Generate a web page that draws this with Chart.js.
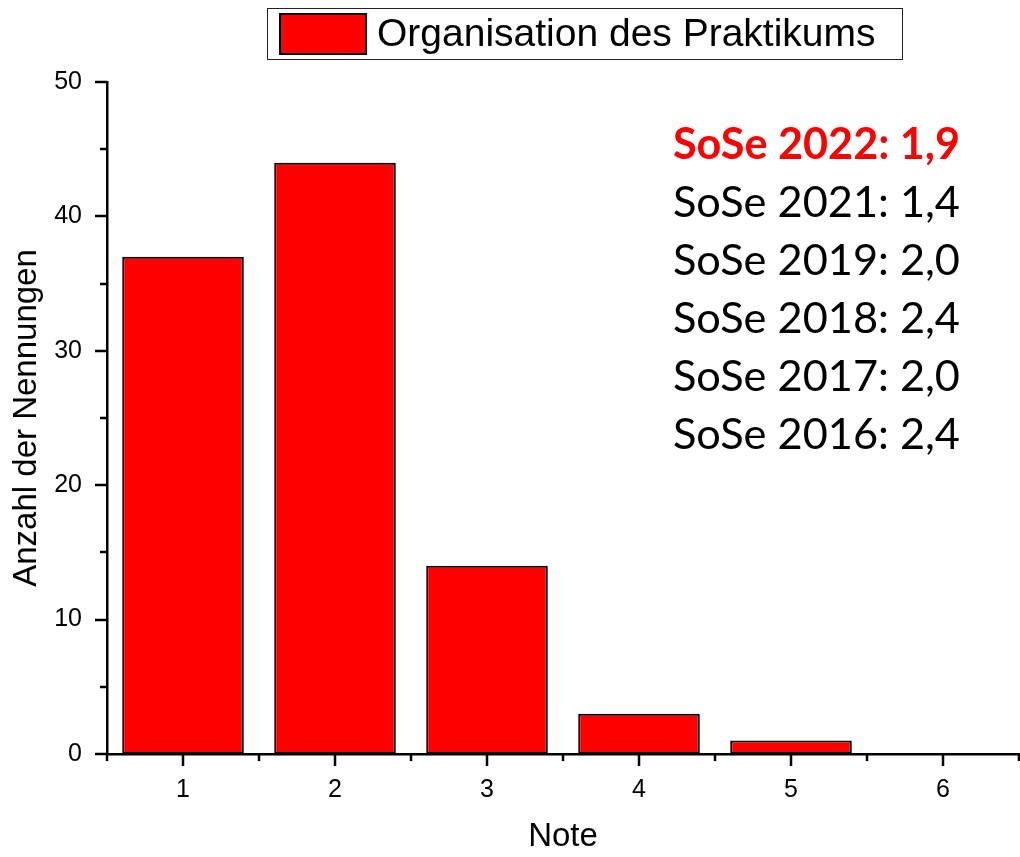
<!DOCTYPE html>
<html>
<head>
<meta charset="utf-8">
<script src="https://cdn.jsdelivr.net/npm/chart.js@4.4.0/dist/chart.umd.min.js"></script>
<style>
  html, body { margin: 0; padding: 0; background: #fff; }
  #wrap { width: 1020px; height: 857px; }
</style>
</head>
<body>
<div id="wrap"><canvas id="chart"></canvas></div>
<script>
// data
const noten = [1, 2, 3, 4, 5, 6];
const anzahl = [37, 44, 14, 3, 1, 0];
const yTicks = [0, 10, 20, 30, 40, 50];
const yMinor = [5, 15, 25, 35, 45];
const xMinor = [0.5, 1.5, 2.5, 3.5, 4.5, 5.5, 6.5];
const seriesLabel = "Organisation des Praktikums";
const semesterNoten = [
    "SoSe 2022: 1,9",
    "SoSe 2021: 1,4",
    "SoSe 2019: 2,0",
    "SoSe 2018: 2,4",
    "SoSe 2017: 2,0",
    "SoSe 2016: 2,4"
];

const ARIAL = "'Liberation Sans', Arial, sans-serif";
const CALIBRI = "Lato, 'Open Sans', sans-serif";

// fit a font so that the text has the given width
function fitFont(ctx, text, weight, family, width) {
    ctx.font = weight + " 48px " + family;
    const w = ctx.measureText(text).width;
    return weight + " " + (48 * width / w).toFixed(1) + "px " + family;
}

const extras = {
    id: "extras",
    afterDraw(chart) {
        const ctx = chart.ctx;
        const xs = chart.scales.x, ys = chart.scales.y;
        const area = chart.chartArea;

        // tick marks, pointing outward
        ctx.save();
        ctx.strokeStyle = "#000";
        ctx.lineWidth = 2.5;
        ctx.beginPath();
        noten.forEach(v => {
            const px = Math.round(xs.getPixelForValue(v));
            ctx.moveTo(px, area.bottom); ctx.lineTo(px, area.bottom + 12);
        });
        xMinor.forEach(v => {
            const px = Math.round(xs.getPixelForValue(v));
            ctx.moveTo(px, area.bottom); ctx.lineTo(px, area.bottom + 7);
        });
        yTicks.forEach(v => {
            const py = Math.round(ys.getPixelForValue(v));
            ctx.moveTo(area.left, py); ctx.lineTo(area.left - 12, py);
        });
        yMinor.forEach(v => {
            const py = Math.round(ys.getPixelForValue(v));
            ctx.moveTo(area.left, py); ctx.lineTo(area.left - 7, py);
        });
        ctx.stroke();

        // legend box
        const ds = chart.data.datasets[0];
        ctx.lineWidth = 1;
        ctx.strokeStyle = "#222";
        ctx.strokeRect(267.5, 8.5, 635, 51);
        ctx.fillStyle = ds.backgroundColor;
        ctx.fillRect(279, 13, 88, 42);
        ctx.lineWidth = 2;
        ctx.strokeStyle = "#000";
        ctx.strokeRect(280, 14, 86, 40);
        ctx.fillStyle = "#000";
        ctx.textBaseline = "middle";
        ctx.textAlign = "left";
        ctx.font = fitFont(ctx, ds.label, "normal", ARIAL, 498);
        ctx.fillText(ds.label, 377, 35);

        // semester notes
        ctx.textBaseline = "alphabetic";
        semesterNoten.forEach((t, i) => {
            const bold = i === 0;
            ctx.font = fitFont(ctx, t, bold ? "bold" : "normal", CALIBRI, 287);
            ctx.fillStyle = bold ? "#ff0000" : "#000";
            ctx.fillText(t, area.left + 566, area.top + 77 + i * 58);
        });
        ctx.restore();
    }
};

new Chart(document.getElementById("chart"), {
    type: "bar",
    data: {
        datasets: [{
            label: seriesLabel,
            data: noten.map((n, i) => ({ x: n, y: anzahl[i] })),
            backgroundColor: "#ff0000",
            borderColor: "#000",
            borderWidth: 2,
            borderSkipped: false,
            categoryPercentage: 0.8,
            barPercentage: 1.0
        }]
    },
    options: {
        responsive: true,
        maintainAspectRatio: false,
        animation: false,
        layout: { padding: { top: 82, right: 1, left: 0, bottom: 0 } },
        plugins: { legend: { display: false }, tooltip: { enabled: false } },
        scales: {
            x: {
                type: "linear",
                offset: false,
                min: 0.5,
                max: 6.5,
                afterBuildTicks: s => { s.ticks = noten.map(v => ({ value: v })); },
                afterFit: s => { s.height = 103; },
                grid: { display: false, drawTicks: false },
                border: { display: true, color: "#000", width: 2.5 },
                ticks: {
                    padding: 21,
                    color: "#000",
                    font: { family: ARIAL, size: 25 },
                    callback: v => String(v)
                },
                title: {
                    display: true,
                    text: "Note",
                    color: "#000",
                    font: { family: ARIAL, size: 33 },
                    padding: { top: 0, bottom: 0 }
                }
            },
            y: {
                min: 0,
                max: 50,
                afterBuildTicks: s => { s.ticks = yTicks.map(v => ({ value: v })); },
                afterFit: s => { s.width = 107; },
                grid: { display: false, drawTicks: false },
                border: { display: true, color: "#000", width: 2.5 },
                ticks: {
                    padding: 25,
                    color: "#000",
                    font: { family: ARIAL, size: 25 },
                    callback: v => String(v)
                },
                title: {
                    display: true,
                    text: "Anzahl der Nennungen",
                    color: "#000",
                    font: { family: ARIAL, size: 33 },
                    padding: { top: 7, bottom: 0 }
                }
            }
        }
    },
    plugins: [extras]
});
</script>
</body>
</html>
